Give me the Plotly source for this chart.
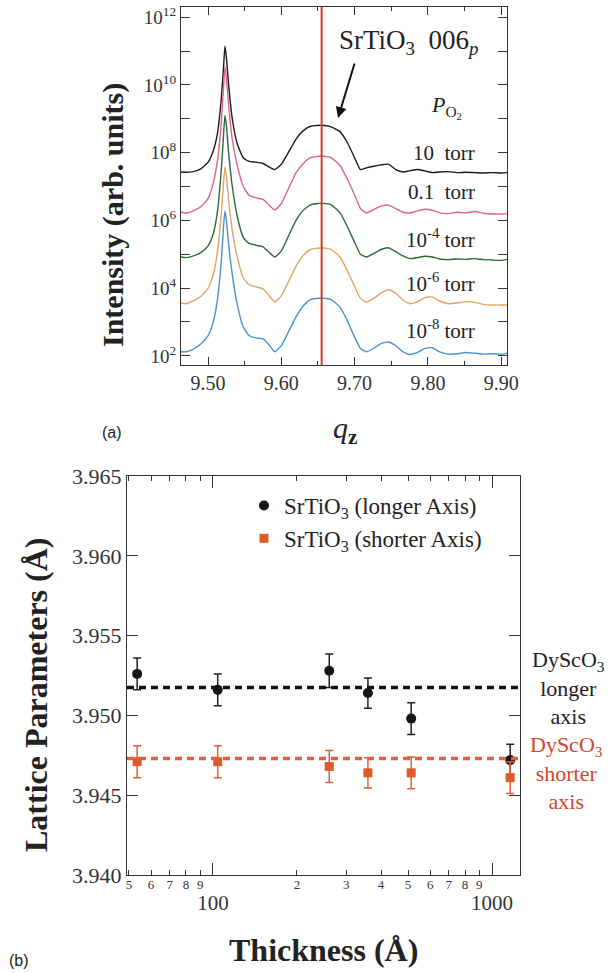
import plotly.graph_objects as go

W, H = 612, 973
def fx(p): return p / W
def fy(p): return 1 - p / H

SERIF = "Liberation Serif, Times New Roman, serif"
SANS = "Liberation Sans, Arial, sans-serif"

# ---------------- panel (a) data: q_z grid and log10 intensity ----------------
q = [9.463, 9.47, 9.48, 9.49, 9.50, 9.507, 9.513, 9.518, 9.521, 9.523, 9.525, 9.528,
     9.533, 9.54, 9.548, 9.556, 9.565, 9.575, 9.583, 9.591, 9.60, 9.61, 9.62, 9.63,
     9.64, 9.655, 9.668, 9.68, 9.69, 9.70, 9.708, 9.716, 9.726, 9.736, 9.746, 9.756,
     9.766, 9.776, 9.786, 9.796, 9.806, 9.816, 9.828, 9.84, 9.852, 9.864, 9.876,
     9.888, 9.90, 9.908]

logI_10torr = [7.43, 7.42, 7.44, 7.52, 7.72, 8.05, 8.6, 9.6, 10.5, 11.14, 10.8, 10.0,
               9.0, 8.25, 7.85, 7.74, 7.72, 7.68, 7.58, 7.50, 7.66, 8.02, 8.4, 8.65,
               8.78, 8.81, 8.76, 8.62, 8.3, 7.85, 7.5, 7.55, 7.6, 7.64, 7.66, 7.5,
               7.43, 7.47, 7.5, 7.46, 7.41, 7.43, 7.44, 7.41, 7.42, 7.41, 7.40,
               7.41, 7.40, 7.41]
logI_01torr = [6.25, 6.22, 6.28, 6.4, 6.65, 7.1, 7.8, 8.9, 9.9, 10.53, 10.2, 9.4,
               8.4, 7.6, 7.0, 6.74, 6.67, 6.62, 6.46, 6.31, 6.5, 6.95, 7.4, 7.68,
               7.85, 7.9, 7.85, 7.62, 7.22, 6.75, 6.35, 6.22, 6.32, 6.42, 6.45, 6.35,
               6.24, 6.22, 6.28, 6.33, 6.30, 6.22, 6.2, 6.24, 6.22, 6.26, 6.21,
               6.19, 6.19, 6.2]
logI_1em4 = [4.92, 4.9, 4.95, 5.05, 5.25, 5.6, 6.3, 7.5, 8.5, 9.1, 8.8, 8.0,
             7.0, 6.1, 5.5, 5.32, 5.27, 5.22, 5.06, 4.92, 5.1, 5.55, 6.0, 6.3,
             6.46, 6.51, 6.46, 6.22, 5.82, 5.35, 5.0, 4.92, 5.02, 5.14, 5.19, 5.08,
             4.95, 4.87, 4.9, 4.94, 4.92, 4.86, 4.84, 4.86, 4.85, 4.87, 4.84,
             4.83, 4.82, 4.85]
logI_1em6 = [3.56, 3.54, 3.62, 3.75, 4.0, 4.4, 5.1, 6.2, 7.1, 7.58, 7.3, 6.6,
             5.7, 4.9, 4.3, 4.1, 4.04, 3.98, 3.79, 3.59, 3.78, 4.2, 4.65, 4.97,
             5.14, 5.19, 5.14, 4.92, 4.52, 4.05, 3.7, 3.59, 3.7, 3.85, 3.95, 3.85,
             3.65, 3.54, 3.6, 3.72, 3.74, 3.62, 3.54, 3.56, 3.6, 3.58, 3.52,
             3.5, 3.5, 3.51]
logI_1em8 = [2.12, 2.12, 2.2, 2.35, 2.6, 3.0, 3.7, 4.8, 5.8, 6.28, 6.0, 5.3,
             4.4, 3.5, 2.85, 2.6, 2.53, 2.5, 2.33, 2.12, 2.3, 2.72, 3.15, 3.48,
             3.66, 3.71, 3.66, 3.44, 3.04, 2.55, 2.22, 2.12, 2.22, 2.36, 2.41, 2.3,
             2.12, 2.04, 2.1, 2.22, 2.24, 2.12, 2.05, 2.06, 2.1, 2.08, 2.05,
             2.06, 2.05, 2.08]

curve_colors = ["#1c1c1c", "#e0628c", "#2b6a3c", "#e3a466", "#4a92d2"]
pressure_labels = ["10  torr", "0.1  torr", "10<sup>-4</sup> torr",
                   "10<sup>-6</sup> torr", "10<sup>-8</sup> torr"]
q_peak = 9.655
y_exponents = list(range(2, 13))

# ---------------- panel (b) data ----------------
thick_long = [53.5, 104, 261, 359, 513, 1161]
lat_long = [3.9526, 3.9516, 3.9528, 3.9514, 3.9498, 3.9472]
err_long = [0.0010, 0.0010, 0.00105, 0.00095, 0.0010, 0.0010]
thick_short = [53.5, 104, 261, 359, 513, 1161]
lat_short = [3.9471, 3.9471, 3.9468, 3.9464, 3.9464, 3.9461]
err_short = [0.0010, 0.0010, 0.0010, 0.00095, 0.0010, 0.0010]
dysco_long = 3.95175
dysco_short = 3.9473
minor_vals = [50, 60, 70, 80, 90, 200, 300, 400, 500, 600, 700, 800, 900]
minor_text = ["5", "6", "7", "8", "9", "2", "3", "4", "5", "6", "7", "8", "9"]
major_vals = [100, 1000]
major_text = ["100", "1000"]

fig = go.Figure()
for arr, col in zip([logI_10torr, logI_01torr, logI_1em4, logI_1em6, logI_1em8], curve_colors):
    fig.add_trace(go.Scatter(x=q, y=[10 ** v for v in arr], mode="lines",
                             line=dict(color=col, width=1.4, shape="spline", smoothing=0.5),
                             xaxis="x", yaxis="y", showlegend=False, hoverinfo="skip"))

fig.add_trace(go.Scatter(x=thick_long, y=lat_long, mode="markers", xaxis="x2", yaxis="y2",
                         name="SrTiO<sub>3</sub> (longer Axis)",
                         marker=dict(symbol="circle", size=10, color="#151515"),
                         error_y=dict(type="data", array=err_long, color="#222",
                                      thickness=1.5, width=4)))
fig.add_trace(go.Scatter(x=thick_short, y=lat_short, mode="markers", xaxis="x2", yaxis="y2",
                         name="SrTiO<sub>3</sub> (shorter Axis)",
                         marker=dict(symbol="square", size=9, color="#e05a2a"),
                         error_y=dict(type="data", array=err_short, color="#e0603a",
                                      thickness=1.5, width=4)))
fig.add_trace(go.Scatter(x=[minor_vals[0]], y=[dysco_long], mode="markers", xaxis="x3",
                         yaxis="y2", marker=dict(opacity=0), showlegend=False,
                         hoverinfo="skip"))

axis_common = dict(showgrid=False, zeroline=False, showline=True, linecolor="#333",
                   linewidth=1.2, mirror="ticks", ticks="inside", tickcolor="#333",
                   tickwidth=1, automargin=False)

fig.update_layout(
    width=W, height=H, autosize=False,
    margin=dict(l=0, r=0, t=0, b=0, pad=0, autoexpand=False),
    paper_bgcolor="white", plot_bgcolor="white",
    xaxis=dict(domain=[fx(181), fx(507)], anchor="y", range=[9.463, 9.908],
               tick0=9.5, dtick=0.1, tickformat=".2f", ticklen=8,
               tickfont=dict(family=SERIF, size=20, color="#333"),
               minor=dict(dtick=0.05, tick0=9.5, ticks="inside", ticklen=4,
                          tickcolor="#333"),
               **axis_common),
    yaxis=dict(domain=[fy(365), fy(7)], anchor="x", type="log", range=[1.73, 12.3],
               tickvals=[10 ** k for k in y_exponents],
               ticktext=["10<sup>%d</sup>" % k if k % 2 == 0 else "" for k in y_exponents],
               ticklen=9, tickfont=dict(family=SERIF, size=19, color="#333"),
               **axis_common),
    xaxis2=dict(domain=[fx(127), fx(520)], anchor="y2", type="log",
                range=[1.692, 3.100], tickvals=major_vals, ticktext=major_text,
                ticklen=12, ticklabelstandoff=9,
                tickfont=dict(family=SERIF, size=21, color="#333"), **axis_common),
    xaxis3=dict(overlaying="x2", anchor="y2", type="log", range=[1.692, 3.100],
                tickvals=minor_vals, ticktext=minor_text, ticks="inside", ticklen=5,
                tickcolor="#333", mirror="ticks", showline=False, showgrid=False,
                zeroline=False, automargin=False,
                tickfont=dict(family=SERIF, size=13, color="#333")),
    yaxis2=dict(domain=[fy(875), fy(476)], anchor="x2", range=[3.940, 3.965],
                tick0=3.94, dtick=0.005, tickformat=".3f", ticklen=11,
                tickfont=dict(family=SERIF, size=22, color="#333"), **axis_common),
    legend=dict(x=fx(244), y=fy(484), xanchor="left", yanchor="top",
                font=dict(family=SERIF, size=23, color="#222"),
                bgcolor="rgba(0,0,0,0)", itemclick=False),
)

# red vertical line at SrTiO3 006 peak
fig.add_shape(type="line", xref="x", yref="y domain", x0=q_peak, x1=q_peak, y0=0, y1=1,
              line=dict(color="#d9381e", width=2))
# DyScO3 reference lines
fig.add_shape(type="line", xref="x2 domain", yref="y2", x0=0, x1=1,
              y0=dysco_long, y1=dysco_long, line=dict(color="#111", width=3.5, dash="7px,5px"))
fig.add_shape(type="line", xref="x2 domain", yref="y2", x0=0, x1=1,
              y0=dysco_short, y1=dysco_short, line=dict(color="#e0603a", width=3.5, dash="7px,5px"))

ann = []
def A(text, x, y, size, color="#222", family=SERIF, xanchor="center", yanchor="middle", **kw):
    ann.append(dict(text=text, x=fx(x), y=fy(y), xref="paper", yref="paper",
                    xanchor=xanchor, yanchor=yanchor, showarrow=False,
                    font=dict(family=family, size=size, color=color), **kw))

A("SrTiO<sub>3</sub>  006<sub><i>p</i></sub>", 408, 42, 27)
A("<i>P</i><sub>O<sub>2</sub></sub>", 446, 107, 22)
label_y = [153, 192, 238, 283, 330]
for t, yy in zip(pressure_labels, label_y):
    A(t, 477, yy, 21, xanchor="right")
A("<b>Intensity (arb. units)</b>", 113, 215, 30, textangle=-90)
A("<i>q</i><sub><b>z</b></sub>", 345, 430, 30)
A("(a)", 112, 432, 16, family=SANS)
A("(b)", 19, 960, 16, family=SANS)
A("<b>Lattice Parameters (Å)</b>", 36, 695, 32, textangle=-90)
A("<b>Thickness (Å)</b>", 323, 950, 32)
A("DyScO<sub>3</sub><br>longer<br>axis", 568, 688, 22, align="center")
A("DyScO<sub>3</sub><br>shorter<br>axis", 566, 773, 22, color="#d0462c", align="center")

ann.append(dict(text="", x=fx(338), y=fy(118), xref="paper", yref="paper",
                ax=17, ay=-56, showarrow=True, arrowhead=2, arrowsize=1.1,
                arrowwidth=2, arrowcolor="#111", standoff=0))
fig.update_layout(annotations=ann)

fig.write_html("out.html")
